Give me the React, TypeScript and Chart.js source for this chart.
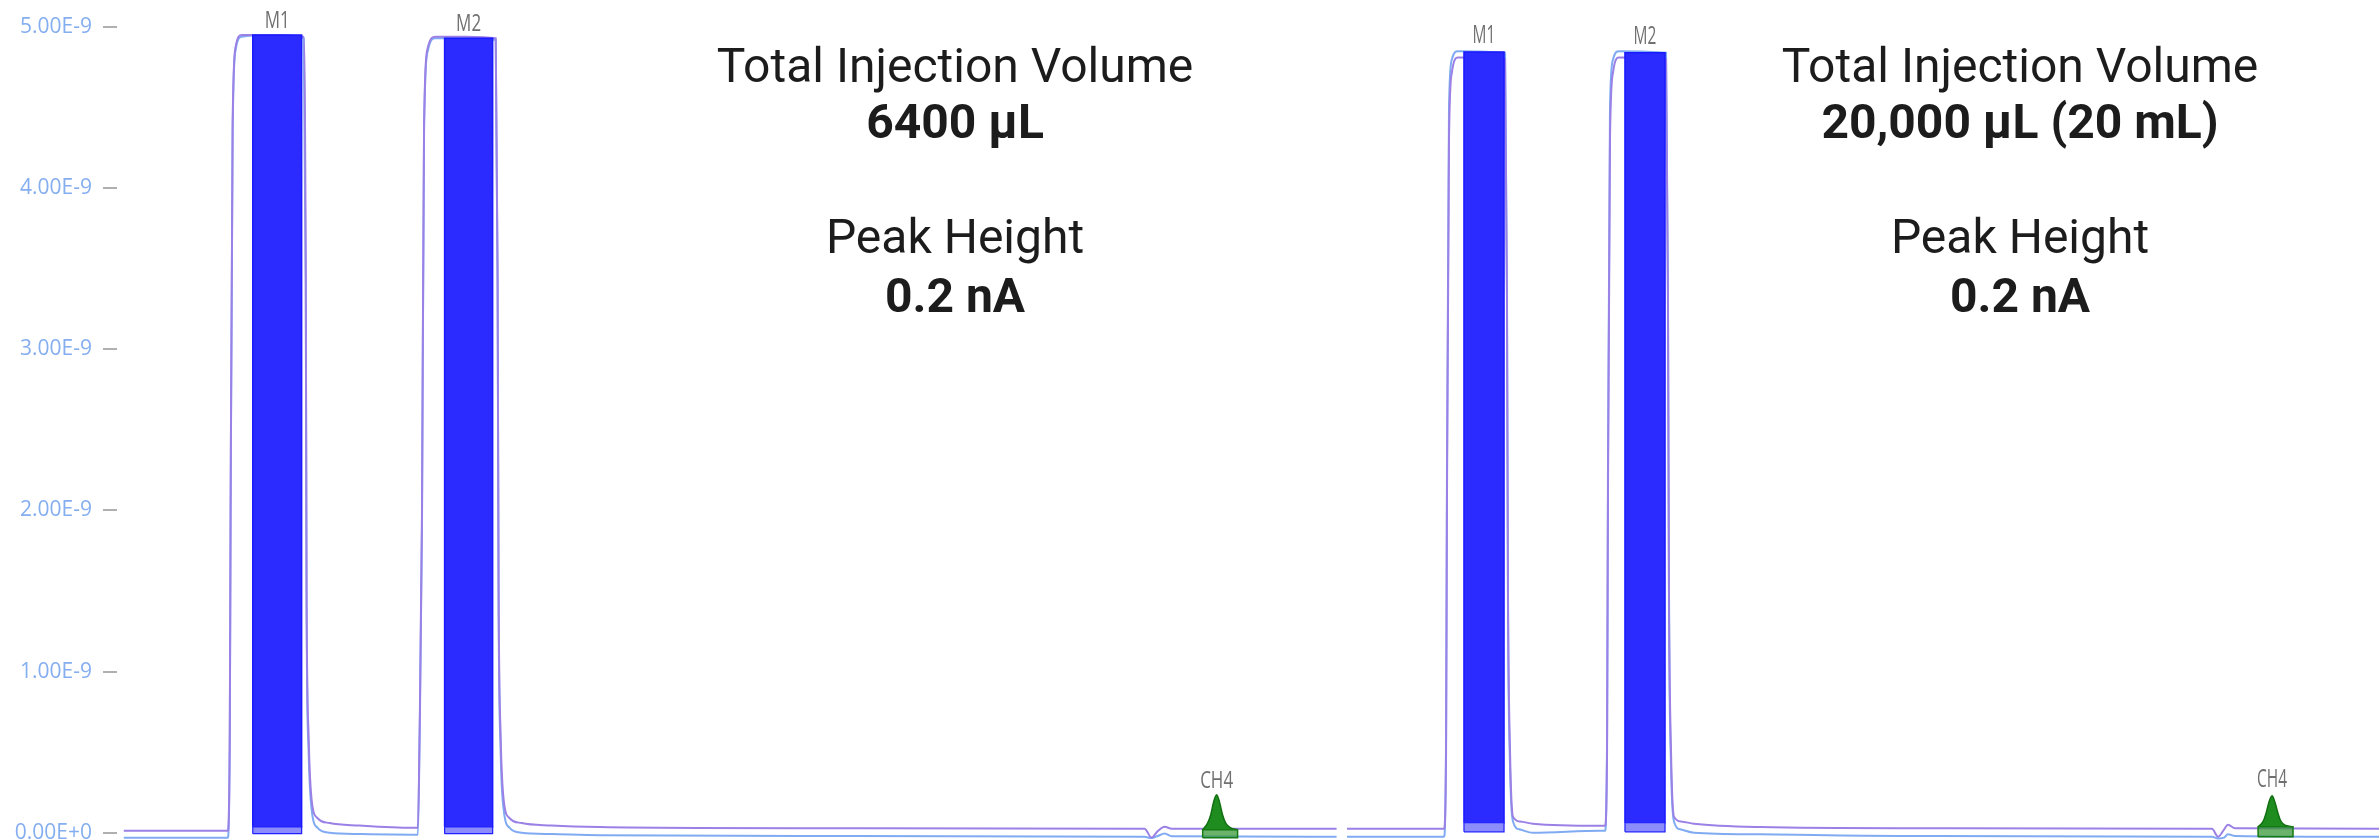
import React, { useEffect, useRef } from 'react';
import { Chart, registerables } from 'chart.js';

Chart.register(...registerables);

// ---------- axis ----------
const yTickValues = [0, 1, 2, 3, 4, 5]; // signal in nA (1E-9 A)
const yTickLabels = ['0.00E+0', '1.00E-9', '2.00E-9', '3.00E-9', '4.00E-9', '5.00E-9'];

// ---------- LEFT run (6400 µL) : time in min, signal in nA ----------
const leftTime = [0.093, 0.463, 0.599, 0.609, 0.613, 0.623, 0.638, 0.667, 0.803, 0.969, 0.979, 0.983, 0.993, 1.008, 1.037, 1.095, 1.241, 1.5, 1.525, 1.533, 1.545, 1.555, 1.575, 1.61, 1.76, 1.904, 1.913, 1.918, 1.928, 1.943, 1.972, 2.03, 2.176, 2.41, 3.384, 5.063, 5.097, 5.127, 5.161, 5.195, 5.998];
const leftPurple = [0.012, 0.012, 0.012, 0.6, 2.0, 4.4, 4.88, 4.95, 4.95, 4.94, 3.5, 1.5, 0.6, 0.2, 0.09, 0.06, 0.045, 0.031, 0.031, 0.6, 2.0, 4.4, 4.88, 4.94, 4.94, 4.93, 3.5, 1.5, 0.6, 0.2, 0.09, 0.06, 0.045, 0.035, 0.028, 0.025, -0.03, 0.01, 0.037, 0.025, 0.025];
const leftBlue = [-0.031, -0.031, -0.031, 0.55, 1.9, 4.35, 4.86, 4.94, 4.95, 4.93, 3.4, 1.4, 0.5, 0.14, 0.03, 0.0, -0.008, -0.012, -0.012, 0.55, 1.9, 4.35, 4.86, 4.93, 4.93, 4.92, 3.4, 1.4, 0.5, 0.14, 0.03, 0.0, -0.008, -0.015, -0.02, -0.025, -0.033, -0.02, -0.005, -0.022, -0.025];
const leftPeakNames = ['M1', 'M2'];
const leftWinStart = [0.721, 1.655];
const leftWinEnd = [0.959, 1.889];
const leftWinTop = [4.95, 4.93];
const leftWinBase = [-0.006, -0.006];
const leftWinBandTop = [0.037, 0.037];
const leftCh4Time = [5.346, 5.37, 5.385, 5.399, 5.414, 5.428, 5.443, 5.458, 5.482, 5.516];
const leftCh4Signal = [0.019, 0.06, 0.11, 0.19, 0.236, 0.19, 0.11, 0.06, 0.03, 0.019];
const leftCh4Band = [0.019, -0.031];

// ---------- RIGHT run (20,000 µL) ----------
const rightTime = [0, 0.564, 0.576, 0.581, 0.593, 0.61, 0.645, 0.919, 0.93, 0.936, 0.948, 0.965, 1.006, 1.081, 1.471, 1.5, 1.512, 1.517, 1.529, 1.547, 1.581, 1.855, 1.866, 1.872, 1.884, 1.901, 1.942, 2.017, 2.401, 3.215, 5.029, 5.064, 5.099, 5.122, 5.163, 6.0];
const rightPurple = [0.025, 0.025, 0.5, 2.0, 4.3, 4.72, 4.81, 4.8, 3.3, 1.5, 0.5, 0.1, 0.07, 0.056, 0.043, 0.043, 0.5, 2.0, 4.3, 4.72, 4.81, 4.8, 3.3, 1.5, 0.5, 0.1, 0.07, 0.056, 0.035, 0.028, 0.025, -0.025, 0.02, 0.05, 0.028, 0.025];
const rightBlue = [-0.025, -0.025, 0.6, 2.2, 4.5, 4.8, 4.85, 4.84, 3.4, 1.4, 0.4, 0.07, 0.02, 0.0, 0.012, 0.012, 0.6, 2.2, 4.5, 4.8, 4.85, 4.84, 3.4, 1.4, 0.4, 0.07, 0.02, 0.0, -0.01, -0.02, -0.025, -0.035, -0.03, -0.01, -0.02, -0.025];
const rightPeakNames = ['M1', 'M2'];
const rightWinStart = [0.68, 1.616];
const rightWinEnd = [0.913, 1.849];
const rightWinTop = [4.845, 4.84];
const rightWinBase = [0.006, 0.006];
const rightWinBandTop = [0.062, 0.062];
const rightCh4Time = [5.297, 5.326, 5.343, 5.36, 5.378, 5.395, 5.413, 5.43, 5.459, 5.5];
const rightCh4Signal = [0.037, 0.07, 0.12, 0.19, 0.23, 0.19, 0.12, 0.07, 0.045, 0.037];
const rightCh4Band = [0.037, -0.025];

// ---------- annotations ----------
const noteLines = ['Total Injection Volume', '', 'Peak Height', '0.2 nA'];
const leftVolume = '6400 µL';
const rightVolume = '20,000 µL (20 mL)';
const noteBold = [false, true, false, true];
const noteBaselines = [82, 138, 253, 312];

const PURPLE = '#9b80e6';
const BLUE = '#80abf2';

type Panel = {
  time: number[]; purple: number[]; blue: number[];
  names: string[]; winStart: number[]; winEnd: number[]; winTop: number[]; winBase: number[]; winBandTop: number[];
  ch4Time: number[]; ch4Signal: number[]; ch4Band: number[];
};

const leftPanel: Panel = {
  time: leftTime, purple: leftPurple, blue: leftBlue, names: leftPeakNames,
  winStart: leftWinStart, winEnd: leftWinEnd, winTop: leftWinTop, winBase: leftWinBase, winBandTop: leftWinBandTop,
  ch4Time: leftCh4Time, ch4Signal: leftCh4Signal, ch4Band: leftCh4Band,
};
const rightPanel: Panel = {
  time: rightTime, purple: rightPurple, blue: rightBlue, names: rightPeakNames,
  winStart: rightWinStart, winEnd: rightWinEnd, winTop: rightWinTop, winBase: rightWinBase, winBandTop: rightWinBandTop,
  ch4Time: rightCh4Time, ch4Signal: rightCh4Signal, ch4Band: rightCh4Band,
};

function rectPts(x0: number, x1: number, y0: number, y1: number) {
  return [
    { x: x0, y: y0 }, { x: x0, y: y1 }, { x: x1, y: y1 }, { x: x1, y: y0 }, { x: x0, y: y0 },
  ];
}

function buildDatasets(p: Panel): any[] {
  const ds: any[] = [];
  const common = { pointRadius: 0, pointHoverRadius: 0 };
  p.winStart.forEach((s, i) => {
    ds.push({
      ...common, data: rectPts(s, p.winEnd[i], p.winBase[i], p.winBandTop[i]),
      borderColor: '#2020ff', borderWidth: 1.2, backgroundColor: 'rgba(140,140,250,1)', fill: 'shape', order: 0,
    });
    ds.push({
      ...common, data: rectPts(s, p.winEnd[i], p.winBandTop[i], p.winTop[i]),
      borderColor: '#1a1aff', borderWidth: 1.5, backgroundColor: '#2b2bff', fill: 'shape', order: 1,
    });
  });
  const e0 = p.ch4Time[0], e1 = p.ch4Time[p.ch4Time.length - 1];
  ds.push({
    ...common, data: rectPts(e0, e1, p.ch4Band[1], p.ch4Band[0]),
    borderColor: '#157a15', borderWidth: 1.5, backgroundColor: 'rgba(50,150,50,0.72)', fill: 'shape', order: 2,
  });
  ds.push({
    ...common, data: p.ch4Time.map((t, i) => ({ x: t, y: p.ch4Signal[i] })),
    borderColor: '#117011', borderWidth: 1.5, backgroundColor: '#1f8c1f', fill: { value: p.ch4Band[0] },
    cubicInterpolationMode: 'monotone', order: 3,
  });
  ds.push({
    ...common, data: p.time.map((t, i) => ({ x: t, y: p.purple[i] })),
    borderColor: PURPLE, borderWidth: 2, fill: false, cubicInterpolationMode: 'monotone', order: 4,
  });
  ds.push({
    ...common, data: p.time.map((t, i) => ({ x: t, y: p.blue[i] })),
    borderColor: BLUE, borderWidth: 2, fill: false, cubicInterpolationMode: 'monotone', order: 5,
  });
  return ds;
}

function labelPlugin(p: Panel, fontSize: number, stretch: number, offset: number) {
  return {
    id: 'peakLabels',
    afterDatasetsDraw(chart: any) {
      const { ctx, scales } = chart;
      const xs = scales.x, ys = scales.y;
      const items: { text: string; x: number; y: number }[] = p.names.map((n, i) => ({
        text: n, x: (p.winStart[i] + p.winEnd[i]) / 2, y: p.winTop[i],
      }));
      const k = p.ch4Signal.indexOf(Math.max(...p.ch4Signal));
      items.push({ text: 'CH4', x: p.ch4Time[k], y: p.ch4Signal[k] });
      ctx.save();
      ctx.font = `${fontSize}px "Open Sans"`;
      ctx.fillStyle = '#707070';
      ctx.textAlign = 'center';
      ctx.textBaseline = 'alphabetic';
      items.forEach((it) => {
        const px = xs.getPixelForValue(it.x);
        const py = ys.getPixelForValue(it.y) - offset;
        ctx.save();
        ctx.translate(px, py);
        ctx.scale(1, stretch);
        ctx.fillText(it.text, 0, 0);
        ctx.restore();
      });
      ctx.restore();
    },
  };
}

function makeChart(canvas: HTMLCanvasElement, p: Panel, showAxis: boolean, xMin: number, xMax: number, lf: number, ls: number, lo: number) {
  return new Chart(canvas, {
    type: 'line',
    data: { datasets: buildDatasets(p) },
    options: {
      animation: false,
      responsive: false,
      maintainAspectRatio: false,
      events: [],
      layout: { padding: { top: 27, left: 0, right: 0, bottom: 0 } },
      plugins: { legend: { display: false }, tooltip: { enabled: false } },
      scales: {
        x: { type: 'linear', min: xMin, max: xMax, display: false },
        y: {
          type: 'linear', min: -0.045, max: 5, display: showAxis,
          afterBuildTicks: (s: any) => { s.ticks = yTickValues.map((v) => ({ value: v })); },
          afterFit: (s: any) => { s.width = showAxis ? 117 : 0; s.paddingTop = 0; s.paddingBottom = 0; },
          ticks: {
            callback: (v: any) => yTickLabels[yTickValues.indexOf(Number(v))] ?? '',
            color: '#85aef0', font: { family: '"Open Sans"', size: 21 }, padding: 11,
          },
          grid: { drawOnChartArea: false, drawTicks: true, tickLength: 14, color: '#b0b0b0', lineWidth: 2 },
          border: { display: false },
        },
      },
    } as any,
    plugins: [labelPlugin(p, lf, ls, lo)],
  });
}

function Notes({ cx, volume }: { cx: number; volume: string }) {
  return (
    <>
      {noteLines.map((t, i) => (
        <div
          key={i}
          style={{
            position: 'absolute', left: cx, top: noteBaselines[i] - 40.4,
            fontFamily: 'Roboto', fontSize: 48, lineHeight: '48px', fontWeight: noteBold[i] ? 700 : 400,
            color: '#1c1c1c', whiteSpace: 'nowrap', transform: 'translateX(-50%)',
          }}
        >
          {i === 1 ? volume : t}
        </div>
      ))}
    </>
  );
}

export default function App() {
  const leftRef = useRef<HTMLCanvasElement>(null);
  const rightRef = useRef<HTMLCanvasElement>(null);
  useEffect(() => {
    const a = makeChart(leftRef.current!, leftPanel, true, 0.06, 6.0, 17, 1.42, 7);
    const b = makeChart(rightRef.current!, rightPanel, false, 0, 6.0, 15.5, 1.65, 9);
    return () => { a.destroy(); b.destroy(); };
  }, []);
  return (
    <div style={{ position: 'absolute', left: 0, top: 0, width: 2379, height: 840, background: '#fff', overflow: 'hidden' }}>
      <canvas ref={leftRef} width={1337} height={840} style={{ position: 'absolute', left: 0, top: 0, width: 1337, height: 840 }} />
      <canvas ref={rightRef} width={1032} height={840} style={{ position: 'absolute', left: 1347, top: 0, width: 1032, height: 840 }} />
      <Notes cx={955} volume={leftVolume} />
      <Notes cx={2020} volume={rightVolume} />
    </div>
  );
}
